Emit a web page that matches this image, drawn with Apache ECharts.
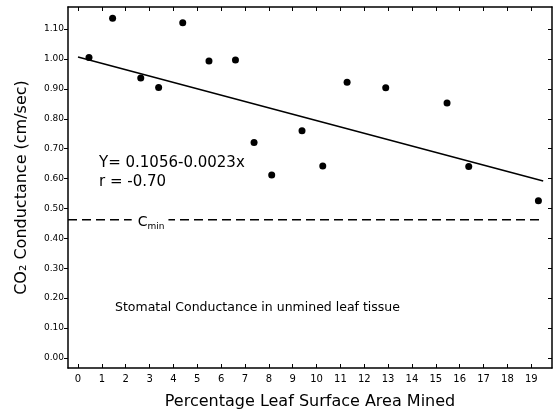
<!DOCTYPE html>
<html>
<head>
<meta charset="utf-8">
<script src="https://cdn.jsdelivr.net/npm/echarts@6/dist/echarts.min.js"></script>
<style>
html, body { margin: 0; background: #fff; }
#chart { width: 556px; height: 413px; }
</style>
</head>
<body>
<div id="chart"></div>
<script>
// tick labels
var xTicks = [0, 1, 2, 3, 4, 5, 6, 7, 8, 9, 10, 11, 12, 13, 14, 15, 16, 17, 18, 19];
var yTicks = [0, 0.1, 0.2, 0.3, 0.4, 0.5, 0.6, 0.7, 0.8, 0.9, 1.0, 1.1];

var leafMined = [0.46, 1.45, 2.63, 3.38, 4.39, 5.49, 6.6, 7.38, 8.12, 9.39, 10.26, 11.28, 12.9, 15.47, 16.38, 19.3];
var conductance = [1.005, 1.136, 0.936, 0.905, 1.121, 0.993, 0.997, 0.721, 0.612, 0.760, 0.642, 0.922, 0.904, 0.853, 0.640, 0.526];

// fitted line end points and C min level
var fitX = [0, 19.5];
var fitY = [1.007, 0.592];
var cMin = 0.462;
var cMinSpan = [-0.42, 19.5];

// text notes
var eqText = ['Y= 0.1056-0.0023x', 'r = -0.70'];
var noteText = 'Stomatal Conductance in unmined leaf tissue';

var X_MIN = -0.42, X_MAX = 19.87;
var Y_MIN = -0.034, Y_MAX = 1.174;
var FONT = 'DejaVu Sans';

var mychart = echarts.init(document.getElementById('chart'));

var pts = leafMined.map(function (x, i) { return [x, conductance[i]]; });
var fit = fitX.map(function (x, i) { return [x, fitY[i]]; });
var cLine = cMinSpan.map(function (x) { return [x, cMin]; });

function xAxisDef(pos, showLabel) {
    return {
        type: 'value',
        position: pos,
        min: X_MIN,
        max: X_MAX,
        splitLine: { show: false },
        axisLine: { show: true, onZero: false, lineStyle: { color: '#000', width: 1.5 } },
        axisTick: { show: true, inside: true, length: 4, customValues: xTicks, lineStyle: { color: '#000' } },
        axisLabel: {
            show: showLabel,
            customValues: xTicks,
            color: '#000',
            fontFamily: FONT,
            fontSize: 10,
            margin: 6
        },
        name: showLabel ? 'Percentage Leaf Surface Area Mined' : '',
        nameLocation: 'middle',
        nameGap: 26,
        nameTextStyle: { color: '#000', fontFamily: FONT, fontSize: 16 }
    };
}

function yAxisDef(pos, showLabel) {
    return {
        type: 'value',
        position: pos,
        min: Y_MIN,
        max: Y_MAX,
        splitLine: { show: false },
        axisLine: { show: true, onZero: false, lineStyle: { color: '#000', width: 1.5 } },
        axisTick: { show: true, inside: !showLabel, length: 4, customValues: yTicks, lineStyle: { color: '#000' } },
        axisLabel: {
            show: showLabel,
            customValues: yTicks,
            color: '#000',
            fontFamily: FONT,
            fontSize: 9,
            margin: 4,
            formatter: function (v) { return v.toFixed(2); }
        },
        name: showLabel ? 'CO\u2082 Conductance (cm/sec)' : '',
        nameLocation: 'middle',
        nameGap: 38,
        nameTextStyle: { color: '#000', fontFamily: FONT, fontSize: 16 }
    };
}

option = {
    backgroundColor: '#fff',
    animation: false,
    grid: { left: 68, top: 7, right: 4, bottom: 45, containLabel: false, outerBoundsMode: 'none' },
    xAxis: [xAxisDef('bottom', true), xAxisDef('top', false)],
    yAxis: [yAxisDef('left', true), yAxisDef('right', false)],
    series: [
        {
            name: 'fit',
            type: 'line',
            data: fit,
            symbol: 'none',
            z: 2,
            lineStyle: { color: '#000', width: 1.5 }
        },
        {
            name: 'cmin',
            type: 'line',
            data: cLine,
            symbol: 'none',
            z: 2,
            lineStyle: { color: '#000', width: 1.5, type: [9, 5] }
        },
        {
            name: 'points',
            type: 'scatter',
            data: pts,
            symbolSize: 7,
            z: 3,
            itemStyle: { color: '#000', opacity: 1 }
        },
        {
            // text notes placed in data coordinates
            name: 'notes',
            type: 'scatter',
            symbolSize: 0,
            silent: true,
            z: 10,
            data: [
                { value: [0.88, 0.652], label: { formatter: eqText[0] } },
                { value: [0.88, 0.588], label: { formatter: eqText[1] } },
                { value: [1.55, 0.167], label: { formatter: noteText, fontSize: 12.5 } },
                {
                    value: [2.25, cMin],
                    label: {
                        formatter: '{c|C}{s|min}',
                        backgroundColor: '#fff',
                        padding: [2, 4, 2, 6],
                        offset: [0, 3],
                        rich: {
                            c: { fontFamily: FONT, fontSize: 14, color: '#000' },
                            s: { fontFamily: FONT, fontSize: 9, color: '#000', padding: [7, 0, 0, 0] }
                        }
                    }
                }
            ],
            itemStyle: { opacity: 0 },
            label: {
                show: true,
                position: 'right',
                distance: 0,
                color: '#000',
                opacity: 1,
                fontFamily: FONT,
                fontSize: 15
            }
        }
    ]
};
mychart.setOption(option);
</script>
</body>
</html>
